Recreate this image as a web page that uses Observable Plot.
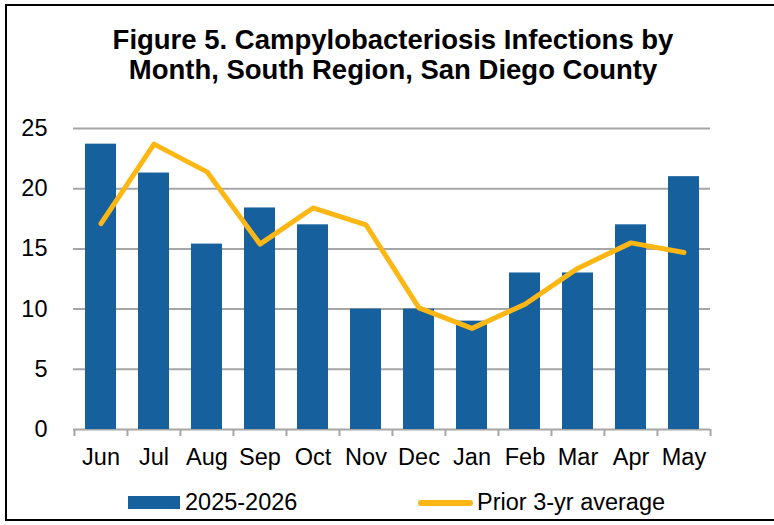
<!DOCTYPE html>
<html>
<head>
<meta charset="utf-8">
<script src="https://cdn.jsdelivr.net/npm/d3@7"></script>
<script src="https://cdn.jsdelivr.net/npm/@observablehq/plot@0.6"></script>
<style>
  html, body { margin: 0; padding: 0; background: #fff; }
  body { width: 774px; height: 525px; overflow: hidden; position: relative; font-family: "Liberation Sans", Arial, sans-serif; }
  #frame { position: absolute; left: 5px; top: 4px; width: 790px; height: 517px; border: 2px solid #000; box-sizing: border-box; }
  #title { position: absolute; left: 0; top: 25px; width: 786px; text-align: center; font-weight: bold; font-size: 27.5px; line-height: 30px; color: #000; }
  #chart { position: absolute; left: 0; top: 100px; }
  .lg { position: absolute; font-size: 23.5px; line-height: 26px; color: #000; white-space: nowrap; }
  #sw1 { position: absolute; left: 128px; top: 496px; width: 52px; height: 13px; background: #17609e; }
  #sw2 { position: absolute; left: 418px; top: 500px; width: 55px; height: 6px; border-radius: 3px; background: #fdb714; }
</style>
</head>
<body>
<div id="frame"></div>
<div id="title">Figure 5. Campylobacteriosis Infections by<br>Month, South Region, San Diego County</div>
<div id="chart"></div>
<div id="sw1"></div><div class="lg" style="left:185px; top:489px;">2025-2026</div>
<div id="sw2"></div><div class="lg" style="left:477px; top:489px;">Prior 3-yr average</div>
<script>
const months = ["Jun","Jul","Aug","Sep","Oct","Nov","Dec","Jan","Feb","Mar","Apr","May"];
const current = [23.7, 21.3, 15.4, 18.4, 17.0, 10.0, 10.0, 9.0, 13.0, 13.0, 17.0, 21.0];
const prior3yr = [17.1, 23.7, 21.4, 15.4, 18.4, 17.0, 10.1, 8.4, 10.4, 13.4, 15.5, 14.7];
const yTicks = [0, 5, 10, 15, 20, 25];

const data = months.map((m, i) => ({month: m, current: current[i], prior: prior3yr[i]}));

const W = 774, H = 370, mL = 73, mR = 64, mT = 28, mB = 41;
const step = (W - mL - mR) / months.length;

const plot = Plot.plot({
  width: W,
  height: H,
  marginLeft: mL,
  marginRight: mR,
  marginTop: mT,
  marginBottom: mB,
  style: {fontFamily: "'Liberation Sans', Arial, sans-serif", color: "#000", background: "transparent"},
  x: {domain: months, paddingInner: 0.42, paddingOuter: 0.21, label: null},
  y: {domain: [0, 25], label: null},
  marks: [
    Plot.ruleY(yTicks, {stroke: "#a6a6a6", strokeWidth: 2}),
    Plot.barY(data, {x: "month", y: "current", fill: "#17609e"}),
    Plot.lineY(data, {x: "month", y: "prior", stroke: "#fdb714", strokeWidth: 5, strokeLinejoin: "round", strokeLinecap: "round"}),
    Plot.ruleX(months, {x: d => d, y1: 0, y2: 0, insetBottom: -7, dx: -step / 2, stroke: "#a6a6a6", strokeWidth: 2}),
    Plot.ruleX(months.slice(-1), {x: d => d, y1: 0, y2: 0, insetBottom: -7, dx: step / 2, stroke: "#a6a6a6", strokeWidth: 2}),
    Plot.axisY({ticks: yTicks, tickSize: 0, tickPadding: 26, fontSize: 23.5, tickFormat: d => String(d)}),
    Plot.axisX({tickSize: 0, tickPadding: 19, fontSize: 23.5})
  ]
});
document.getElementById("chart").appendChild(plot);
</script>
</body>
</html>
